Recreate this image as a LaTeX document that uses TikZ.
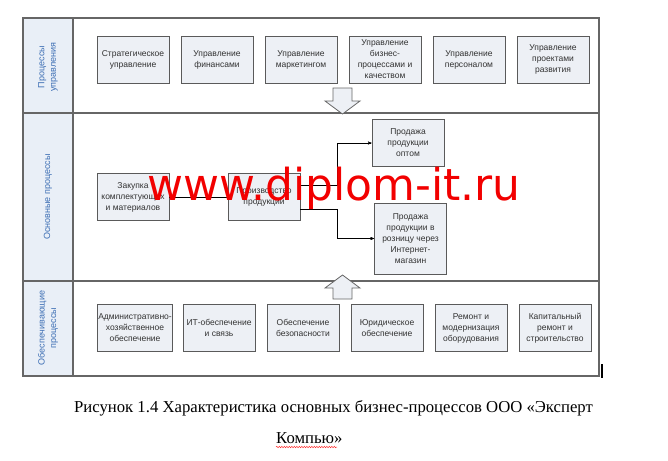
\documentclass[tikz,border=0pt]{standalone}
\usepackage{fontspec}
\setmainfont{Liberation Serif}
\setsansfont{Liberation Sans}
\newfontfamily\wmfont{DejaVu Sans}
\usetikzlibrary{arrows}
\usetikzlibrary{positioning}
\usetikzlibrary{decorations.pathmorphing}
\definecolor{boxfill}{HTML}{EDF0F5}
\definecolor{boxline}{HTML}{5A5A5A}
\definecolor{lanefill}{HTML}{E9EFF7}
\definecolor{lanetext}{HTML}{3C6EB4}
\definecolor{frameline}{HTML}{666666}
\definecolor{wmred}{HTML}{F20000}

\begin{document}
\begin{tikzpicture}[x=1pt,y=-1pt,>=stealth',node distance=84pt,
	proc node/.style={rectangle,draw=boxline,fill=boxfill,line width=0.9pt,
		minimum width=72pt,minimum height=47pt,inner sep=1pt,align=center,
		font=\sffamily\fontsize{8.5}{11}\selectfont,text=black!80},
	lane label/.style={rotate=90,align=center,text=lanetext,
		font=\sffamily\fontsize{9}{11.5}\selectfont},
	block arrow/.style={draw=frameline,fill=boxfill,line width=0.8pt}]
	
	\useasboundingbox (0,0) rectangle (668,460);
	
	% lanes
	\fill[lanefill] (23,18) rectangle (73,376);
	\draw[frameline,line width=1.3pt] (23,18) rectangle (599,376);
	\draw[frameline,line width=1.3pt] (73,18) -- (73,376);
	\draw[frameline,line width=1.3pt] (23,113) -- (599,113);
	\draw[frameline,line width=1.3pt] (23,281) -- (599,281);
	\draw[line width=1.2pt] (602,364) -- (602,378);
	
	\node[lane label] (l1) at (48,67) {Процессы\\управления};
	\node[lane label] (l2) at (48,197) {Основные процессы};
	\node[lane label] (l3) at (48,328) {Обеспечивающие\\процессы};
	
	% management
	\node[proc node] (m1) at (133,59.5) {Стратегическое\\управление};
	\node[proc node] (m2) [right of=m1] {Управление\\финансами};
	\node[proc node] (m3) [right of=m2] {Управление\\маркетингом};
	\node[proc node] (m4) [right of=m3] {Управление\\бизнес-\\процессами и\\качеством};
	\node[proc node] (m5) [right of=m4] {Управление\\персоналом};
	\node[proc node] (m6) [right of=m5] {Управление\\проектами\\развития};
	
	% main
	\node[proc node] (z) at (133,197) {Закупка\\комплектующих\\и материалов};
	\node[proc node] (p) [right of=z,node distance=131pt] {Производство\\продукции};
	\node[proc node] (o) at (408,143) {Продажа\\продукции\\оптом};
	\node[proc node,minimum height=71pt] (r) at (410.5,238.5) {Продажа\\продукции в\\розницу через\\Интернет-\\магазин};
	
	\draw (z) -- (p);
	\draw[->] ([yshift=12pt]p.east) -- ++(37,0) |- (o);
	\draw[->] ([yshift=-12pt]p.east) -- ++(37,0) |- (r);
	
	% support
	\node[proc node,minimum width=75pt] (s1) at (135,328) {Административно-\\хозяйственное\\обеспечение};
	\node[proc node] (s2) [right of=s1] {ИТ-обеспечение\\и связь};
	\node[proc node] (s3) [right of=s2] {Обеспечение\\безопасности};
	\node[proc node] (s4) [right of=s3] {Юридическое\\обеспечение};
	\node[proc node] (s5) [right of=s4] {Ремонт и\\модернизация\\оборудования};
	\node[proc node] (s6) [right of=s5] {Капитальный\\ремонт и\\строительство};
	
	\draw[block arrow] (333,88) -- (352,88) -- (352,101) -- (360,101) -- (342.5,114)
		-- (325,101) -- (333,101) -- cycle;
	\draw[block arrow] (342.5,275) -- (360,288) -- (352,288) -- (352,299)
		-- (333,299) -- (333,288) -- (325,288) -- cycle;
	
	\node[anchor=base west,inner sep=0pt,text=wmred,
		font=\wmfont\fontsize{44}{44}\selectfont] (wm) at (147,200) {www.diplom-it.ru};
	
	% caption
	\node[anchor=base,inner sep=0pt,font=\fontsize{16.7}{20}\selectfont] (c1) at (333.5,412)
		{Рисунок 1.4 Характеристика основных бизнес-процессов ООО «Эксперт};
	\node[anchor=base west,inner sep=0pt,font=\fontsize{16.7}{20}\selectfont] (c2) at (276,443)
		{Компью»};
	\draw[red!80,line width=0.5pt,decorate,
		decoration={snake,amplitude=0.7pt,segment length=2.5pt}]
		([yshift=-4pt]c2.base west) -- ++(61,0);
\end{tikzpicture}
\end{document}
